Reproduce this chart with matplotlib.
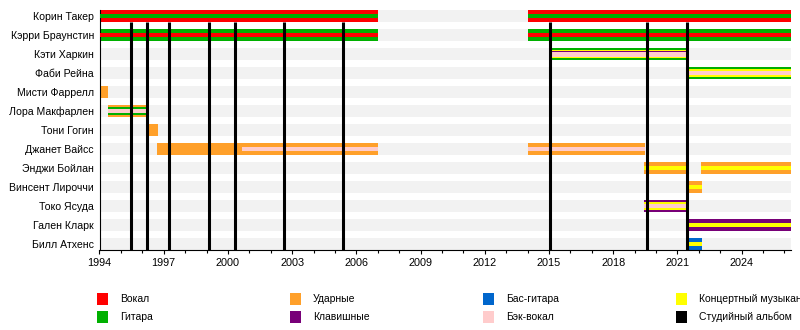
import matplotlib.pyplot as plt
from matplotlib.patches import Rectangle

plt.rcParams['font.family'] = ['Liberation Sans', 'DejaVu Sans']

# Members, top to bottom
members = ["Корин Такер", "Кэрри Браунстин", "Кэти Харкин", "Фаби Рейна",
           "Мисти Фаррелл", "Лора Макфарлен", "Тони Гогин", "Джанет Вайсс",
           "Энджи Бойлан", "Винсент Лироччи", "Токо Ясуда", "Гален Кларк",
           "Билл Атхенс"]

# Roles and legend
role_keys = ["vocals", "guitar", "drums", "keys", "bass", "backing", "live", "album"]
role_labels = ["Вокал", "Гитара", "Ударные", "Клавишные", "Бас-гитара",
               "Бэк-вокал", "Концертный музыкант", "Студийный альбом"]
role_colors = ["#FF0000", "#00B000", "#FFA02A", "#780078", "#0066CC",
               "#FFCCCC", "#FFFF00", "#000000"]
color_of = dict(zip(role_keys, role_colors))

END = 2026.31

# Stints: member index, start, end, roles from outer stripe to inner
stint_member = [0, 0, 1, 1, 2, 3, 4, 5, 6, 7, 7, 7, 8, 8, 9, 10, 11, 12]
stint_start = [1994.0, 2014.0, 1994.0, 2014.0, 2015.0, 2021.45, 1994.0, 1994.4,
               1996.22, 1996.69, 2000.66, 2014.0, 2019.45, 2022.1, 2021.45,
               2019.45, 2021.45, 2021.45]
stint_end = [2007.0, END, 2007.0, END, 2021.47, END, 1994.4, 1996.27,
             1996.73, 2000.66, 2007.0, 2019.5, 2021.47, END, 2022.15,
             2021.47, END, 2022.15]
stint_roles = [
    ("vocals", "guitar"), ("vocals", "guitar"),
    ("guitar", "vocals"), ("guitar", "vocals"),
    ("guitar", "live", "keys", "backing"),
    ("guitar", "live", "backing"),
    ("drums",),
    ("drums", "guitar", "backing"),
    ("drums",),
    ("drums",), ("drums", "backing"), ("drums", "backing"),
    ("drums", "live"), ("drums", "live"),
    ("drums", "live"),
    ("keys", "live", "backing"),
    ("keys", "live"),
    ("bass", "live"),
]

# Studio albums
album_dates = [1995.47, 1996.22, 1997.25, 1999.12, 2000.33, 2002.62, 2005.38,
               2015.05, 2019.58, 2021.44]

ROW = 19.0  # px per row
LAYER_PX = {1: [12], 2: [12, 4], 3: [12, 8, 4.5], 4: [12, 8, 6.4, 5]}

fig = plt.figure(figsize=(8, 3.3), dpi=100)
ax = fig.add_axes([99.5 / 800, 80 / 330, (791 - 99.5) / 800, 240 / 330])

n = len(members)
half = 6 / ROW
for i in range(n):
    ax.axhspan(i - half, i + half, color="#F2F2F2", lw=0, zorder=0)

for m, s, e, roles in zip(stint_member, stint_start, stint_end, stint_roles):
    widths = LAYER_PX[len(roles)]
    for k, r in enumerate(roles):
        ax.barh(m, e - s, left=s, height=widths[k] / ROW, color=color_of[r],
                lw=0, zorder=2 + k)

ax.vlines(album_dates, half, n - 1 + half, color="black", lw=2.2, zorder=10)

ax.set_xlim(1994, END)
ax.set_ylim(n - 1 + half, -half)
ax.set_yticks(range(n))
ax.set_yticklabels(members, fontsize=7.6)
ax.tick_params(axis="y", length=0, pad=4)
ax.set_xticks(range(1994, 2027, 3))
ax.set_xticks(range(1994, 2027), minor=True)
ax.tick_params(axis="x", which="major", length=3, width=0.8, labelsize=7.8, pad=3)
ax.tick_params(axis="x", which="minor", length=2, width=0.8)
for side in ["top", "right"]:
    ax.spines[side].set_visible(False)
ax.spines["left"].set_linewidth(0.8)
ax.spines["bottom"].set_linewidth(0.8)

# Legend, two rows by four columns
col_x = [97, 290, 483, 676]
row_y = [298.5, 316.5]
for j, (lab, col) in enumerate(zip(role_labels, role_colors)):
    cx = col_x[j // 2]
    cy = row_y[j % 2]
    fig.patches.append(Rectangle((cx / 800, (330 - cy - 6) / 330), 11 / 800, 12 / 330,
                                 transform=fig.transFigure, color=col, lw=0))
    fig.text((cx + 23) / 800, (330 - cy) / 330, lab, fontsize=7.5, va="center", ha="left")

fig.savefig("out.png", dpi=100)
